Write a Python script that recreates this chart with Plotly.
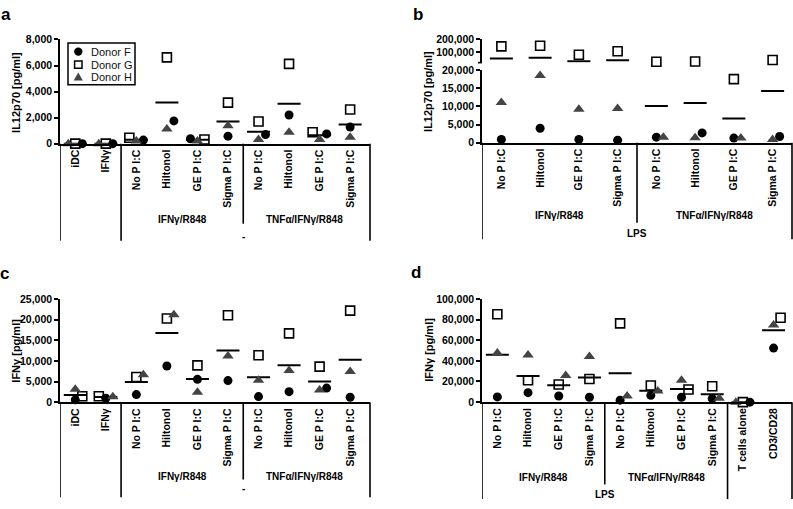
import numpy as np
import plotly.graph_objects as go

FONT = "Liberation Sans, Arial, Helvetica, sans-serif"
W, H = 793, 509

# ---------------- data ----------------
cats_ac = ["iDC", "IFNγ", "No P I:C", "Hiltonol", "GE P I:C", "Sigma P I:C",
           "No P I:C", "Hiltonol", "GE P I:C", "Sigma P I:C"]
cats_b = ["No P I:C", "Hiltonol", "GE P I:C", "Sigma P I:C",
          "No P I:C", "Hiltonol", "GE P I:C", "Sigma P I:C"]
cats_d = ["No P I:C", "Hiltonol", "GE P I:C", "Sigma P I:C",
          "No P I:C", "Hiltonol", "GE P I:C", "Sigma P I:C",
          "T cells alone", "CD3/CD28"]

# panel a: IL12p70 [pg/ml]
a_F = [0, 0, 275, 1750, 375, 575, 700, 2200, 750, 1275]
a_G = [0, 0, 450, 6625, 325, 3150, 1700, 6125, 875, 2625]
a_H = [0, 0, 200, 1125, 200, 1375, 325, 875, 325, 500]

# panel b: IL12p70 [pg/ml], LPS
b_F = [900, 3960, 900, 700, 1530, 2700, 1260, 1710]
b_G = [145000, 150000, 80000, 107500, 27300, 28600, 17480, 40000]
b_H = [11080, 18470, 9190, 9370, 1530, 1350, 1260, 900]

# panel c: IFNγ [pg/ml]
c_F = [630, 1000, 1890, 8800, 5580, 5270, 1415, 2600, 3460, 1260]
c_G = [1500, 1500, 6130, 20280, 8960, 21070, 11400, 16670, 8650, 22170]
c_H = [3200, 1400, 6700, 21200, 2440, 11240, 5350, 7700, 3000, 7470]

# panel d: IFNγ [pg/ml], T-cell co-culture
d_F = [5050, 9150, 6000, 4730, 1900, 6620, 4730, 3470, 0, 52370]
d_G = [85170, 21140, 17030, 22400, 76340, 16090, 12300, 15460, 0, 81700]
d_H = [47630, 45740, 25870, 44160, 6000, 10730, 21140, 3790, 0, 74760]

donors = ["Donor F", "Donor G", "Donor H"]

# ---------------- helpers ----------------
def px2x(px):
    return px / W


def py2y(py):
    return 1 - py / H


TRI_COLOR = "#444444"
STYLE = {
    "Donor F": dict(symbol="circle", size=9, color="black", line=dict(width=0)),
    "Donor G": dict(symbol="square-open", size=9, color="black", line=dict(width=1.6, color="black")),
    "Donor H": dict(symbol="triangle-up", size=10, color=TRI_COLOR, line=dict(width=0)),
}


def jitter_offsets(series, to_px, px_per_cat, thr=10.0, step_px=7.0):
    n = len(series[0])
    offs = [np.zeros(n) for _ in series]
    tie_rank = [1, 0, 2]
    slot_order = [0, 1, -1, 2, -2]
    for i in range(n):
        order = sorted(range(len(series)), key=lambda d: (series[d][i], tie_rank[d]))
        placed = []
        for d in order:
            yp = to_px(series[d][i])
            chosen = 0
            for s in slot_order:
                if all(not (ps == s and abs(yp - pp) < thr) for pp, ps in placed):
                    chosen = s
                    break
            placed.append((yp, chosen))
            offs[d][i] = chosen * step_px / px_per_cat
    return offs


def mean_line_xy(means, mask, half):
    xs, ys = [], []
    for i, m in enumerate(means):
        if mask(m):
            xs += [i - half, i + half, None]
            ys += [m, m, None]
    return xs, ys


fig = go.Figure()


def add_panel(series, xa, ya_fn, to_px, px_per_cat):
    means = np.mean(np.array(series, dtype=float), axis=0)
    half = 11.5 / px_per_cat
    for ya, mask in ya_fn:
        xs, ys = mean_line_xy(means, mask, half)
        if xs:
            fig.add_trace(go.Scatter(x=xs, y=ys, mode="lines", xaxis=xa, yaxis=ya,
                                     name="mean", line=dict(color="black", width=2),
                                     showlegend=False, hoverinfo="skip"))
    offs = jitter_offsets(series, to_px, px_per_cat)
    for d, name in enumerate(donors):
        vals = np.array(series[d], dtype=float)
        xpos = np.arange(len(vals)) + offs[d]
        for ya, mask in ya_fn:
            sel = [mask(v) for v in vals]
            if not any(sel):
                continue
            fig.add_trace(go.Scatter(
                x=[xp for xp, s in zip(xpos, sel) if s],
                y=[v for v, s in zip(vals, sel) if s],
                mode="markers", xaxis=xa, yaxis=ya, name=name,
                marker=STYLE[name], cliponaxis=False, showlegend=False))


# panel geometry (pixels)
A_Y0, A_Y1 = 141.0, 34.3
C_Y0, C_Y1 = 406.0, 300.0
D_Y0, D_Y1 = 405.7, 300.0
B_LO0, B_LO1 = 140.0, 65.5
B_UP0, B_UP1 = 58.0, 34.0
B_BREAK = 20000

AC_RANGE = [-0.5, 9.65]
D_RANGE = [-0.5, 9.6]
B_RANGE = [-0.5, 7.5]

ac_ppc = 310 / (AC_RANGE[1] - AC_RANGE[0])
d_ppc = 310 / (D_RANGE[1] - D_RANGE[0])
b_ppc = 310 / (B_RANGE[1] - B_RANGE[0])

add_panel([a_F, a_G, a_H], "x", [("y", lambda v: True)],
          lambda v: A_Y0 - v * (A_Y0 - A_Y1) / 8000, ac_ppc)


def b_px(v):
    if v <= B_BREAK:
        return B_LO0 - v * (B_LO0 - B_LO1) / B_BREAK
    return B_UP0 - (v - B_BREAK) * (B_UP0 - B_UP1) / (200000 - B_BREAK)


add_panel([b_F, b_G, b_H], "x2",
          [("y2", lambda v: v <= B_BREAK), ("y3", lambda v: v > B_BREAK)],
          b_px, b_ppc)
add_panel([c_F, c_G, c_H], "x3", [("y4", lambda v: True)],
          lambda v: C_Y0 - v * (C_Y0 - C_Y1) / 25000, ac_ppc)
add_panel([d_F, d_G, d_H], "x4", [("y5", lambda v: True)],
          lambda v: D_Y0 - v * (D_Y0 - D_Y1) / 100000, d_ppc)

# ---------------- axes ----------------
tickfont_b = dict(family=FONT, size=10.5, color="black", weight="bold")
xfont = dict(family=FONT, size=10.5, color="black", weight="bold")


def xaxis(domain, rng, cats, anchor):
    return dict(domain=domain, range=rng, anchor=anchor, showline=True, linecolor="black",
                linewidth=1.6, ticks="", tickangle=-90, tickmode="array",
                tickvals=list(range(len(cats))), ticktext=cats, tickfont=xfont,
                showgrid=False, zeroline=False, fixedrange=True)


def yaxis(domain, rng, dtick, anchor, tickvals=None):
    d = dict(domain=domain, range=rng, anchor=anchor, showline=True, linecolor="black",
             linewidth=1.6, ticks="outside", ticklen=4, tickwidth=1.6, tickcolor="black",
             tickformat=",d", tickfont=tickfont_b, showgrid=False, zeroline=False,
             fixedrange=True)
    if tickvals is not None:
        d.update(tickmode="array", tickvals=tickvals,
                 ticktext=[f"{v:,}" for v in tickvals])
    else:
        d.update(dtick=dtick, tick0=0)
    return d


fig.update_layout(
    width=W, height=H, margin=dict(l=0, r=0, t=0, b=0),
    paper_bgcolor="white", plot_bgcolor="white",
    font=dict(family=FONT, color="black"),
    xaxis=xaxis([px2x(60), px2x(370)], AC_RANGE, cats_ac, "y"),
    yaxis=yaxis([py2y(A_Y0), py2y(A_Y1)], [0, 8000], 2000, "x"),
    xaxis2=xaxis([px2x(482), px2x(792)], B_RANGE, cats_b, "y2"),
    yaxis2=yaxis([py2y(B_LO0), py2y(B_LO1)], [0, 20000], 5000, "x2"),
    yaxis3=yaxis([py2y(B_UP0), py2y(B_UP1)], [B_BREAK, 200000], None, "x2",
                 tickvals=[100000, 200000]),
    xaxis3=xaxis([px2x(60), px2x(370)], AC_RANGE, cats_ac, "y4"),
    yaxis4=yaxis([py2y(C_Y0), py2y(C_Y1)], [0, 25000], 5000, "x3"),
    xaxis4=xaxis([px2x(482), px2x(792)], D_RANGE, cats_d, "y5"),
    yaxis5=yaxis([py2y(D_Y0), py2y(D_Y1)], [0, 100000], 20000, "x4"),
    showlegend=False,
)

# ---------------- decorations ----------------
shapes = []
BLK = dict(color="black", width=1.6)


def vline(xref, x, py0, py1):
    shapes.append(dict(type="line", xref=xref, yref="paper", x0=x, x1=x,
                       y0=py2y(py0), y1=py2y(py1), line=BLK))


vline("x", -0.5, A_Y0, 240.5)
vline("x", 1.5, A_Y0, 240.5)
vline("x", 5.5, A_Y0, 223)
vline("paper", px2x(370), A_Y0, 240.5)
vline("x3", -0.5, C_Y0, 503)
vline("x3", 1.5, C_Y0, 503)
vline("x3", 5.5, C_Y0, 485)
vline("paper", px2x(370), C_Y0, 503)
vline("x2", -0.5, B_LO0, 239)
vline("x2", 3.5, B_LO0, 222)
vline("paper", px2x(792), B_LO0, 239)
vline("x4", -0.5, D_Y0, 505)
vline("x4", 3.5, D_Y0, 490)
vline("x4", 7.5, D_Y0, 505)
vline("paper", px2x(792), D_Y0, 505)
shapes.append(dict(type="line", xref="paper", yref="paper", x0=px2x(478), x1=px2x(482),
                   y0=py2y(B_UP0), y1=py2y(B_UP0), line=BLK))

# legend (panel a) drawn as a boxed key
LG_X0, LG_X1, LG_Y0, LG_Y1 = 68, 135, 38, 80.7
shapes.append(dict(type="rect", xref="paper", yref="paper", x0=px2x(LG_X0), x1=px2x(LG_X1),
                   y0=py2y(LG_Y1), y1=py2y(LG_Y0), line=dict(color="black", width=1.5),
                   fillcolor="white", layer="above"))
SYM_X = 78.3
ROWS = [46.7, 60.0, 72.5]
r = 4.2
shapes.append(dict(type="circle", xref="paper", yref="paper",
                   x0=px2x(SYM_X - r), x1=px2x(SYM_X + r), y0=py2y(ROWS[0] + r), y1=py2y(ROWS[0] - r),
                   fillcolor="black", line=dict(width=0), layer="above"))
s = 3.7
shapes.append(dict(type="rect", xref="paper", yref="paper",
                   x0=px2x(SYM_X - s), x1=px2x(SYM_X + s), y0=py2y(ROWS[1] + s), y1=py2y(ROWS[1] - s),
                   fillcolor="white", line=dict(width=1.5, color="black"), layer="above"))
t = 4.6
tri = (f"M {px2x(SYM_X - t)} {py2y(ROWS[2] + t * 0.85)} L {px2x(SYM_X + t)} {py2y(ROWS[2] + t * 0.85)} "
       f"L {px2x(SYM_X)} {py2y(ROWS[2] - t * 0.95)} Z")
shapes.append(dict(type="path", xref="paper", yref="paper", path=tri,
                   fillcolor=TRI_COLOR, line=dict(width=0), layer="above"))
fig.update_layout(shapes=shapes)

ann = []


def text(x, y, s, size=10, bold=True, angle=0, xref="paper", xanchor="center", color="black"):
    ann.append(dict(x=x if xref != "paper" else px2x(x), y=py2y(y), xref=xref, yref="paper",
                    text=s, showarrow=False, textangle=angle, xanchor=xanchor, yanchor="middle",
                    font=dict(family=FONT, size=size, color=color,
                              weight="bold" if bold else "normal")))


for name, yy in zip(donors, ROWS):
    text(88.5, yy, name, size=11, bold=False, xanchor="left", color="#111111")

text(6, 9, "a", size=17)
text(418, 9, "b", size=17)
text(4.5, 273.5, "c", size=17)
text(416, 272.5, "d", size=17)
text(16, 89, "IL12p70 [pg/ml]", size=11, angle=-90)
text(428, 88, "IL12p70 [pg/ml]", size=11, angle=-90)
text(16, 353, "IFNγ [pg/ml]", size=11, angle=-90)
text(429, 352, "IFNγ [pg/ml]", size=11, angle=-90)
for yy, xr in ((218.3, "x"), (481.7, "x3")):
    text(3.5, yy, "IFNγ/R848", xref=xr)
    text(7.5, yy, "TNFα/IFNγ/R848", xref=xr)
text(5.5, 236, "-", xref="x")
text(5.5, 494, "-", xref="x3")
text(1.5, 215, "IFNγ/R848", xref="x2")
text(5.5, 215, "TNFα/IFNγ/R848", xref="x2")
text(3.5, 233, "LPS", xref="x2")
text(1.5, 483.3, "IFNγ/R848", xref="x4")
text(5.5, 483.3, "TNFα/IFNγ/R848", xref="x4")
text(3.5, 500.5, "LPS", xref="x4")
fig.update_layout(annotations=ann)

fig.write_html("out.html", config={"displayModeBar": False},
               post_script="document.body.style.margin='0';document.body.style.padding='0';")
